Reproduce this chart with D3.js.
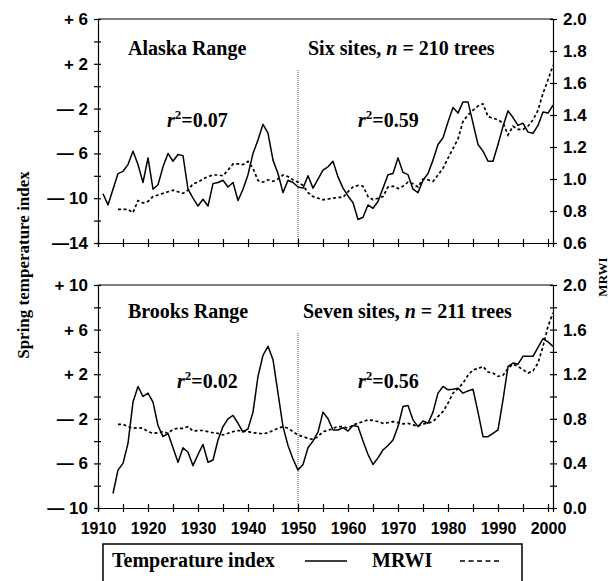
<!DOCTYPE html>
<html>
<head>
<meta charset="utf-8">
<script src="https://cdn.jsdelivr.net/npm/d3@7"></script>
<style>
body { margin: 0; background: #fff; }
.serif { font-family: "Liberation Serif", "Times New Roman", serif; font-weight: bold; fill: #000; }
.tick text { font-family: "Liberation Sans", Arial, sans-serif; font-weight: bold; font-size: 17px; fill: #000; }
.xax .tick text { font-size: 16px; }
.domain, .tick line { stroke: #000; stroke-width: 1.2; }
</style>
</head>
<body>
<div id="chart"></div>
<script>
// Alaska Range (top panel), one value per year
var alaskaTempStart = 1911;
var alaskaTemp = [
	-9.6, -10.6, -9.2, -7.8, -7.6, -7.0, -5.8, -7.0, -8.6, -6.4,
	-9.2, -8.8, -7.2, -6.0, -6.7, -6.1, -6.2, -9.2, -10.0, -10.7,
	-10.1, -10.7, -8.7, -8.6, -8.4, -9.0, -8.6, -10.2, -9.2, -7.9,
	-6.0, -4.8, -3.4, -4.2, -6.6, -7.8, -9.5, -8.4, -8.6, -9.0,
	-9.1, -8.0, -9.1, -8.3, -7.5, -7.2, -6.7, -8.1, -9.1, -9.8,
	-10.4, -11.9, -11.7, -10.6, -10.9, -10.3, -9.1, -7.9, -7.8, -6.4,
	-7.7, -7.9, -9.2, -9.5, -8.4, -7.8, -6.6, -5.2, -4.6, -3.2,
	-1.9, -2.4, -1.4, -1.4, -3.3, -5.2, -5.8, -6.7, -6.7, -5.2,
	-3.6, -2.2, -2.8, -3.5, -3.3, -4.1, -4.2, -3.5, -2.3, -2.4,
	-1.7
];
var alaskaMrwiStart = 1914;
var alaskaMrwi = [
	0.81, 0.81, 0.81, 0.79, 0.865, 0.85, 0.86,
	0.89, 0.90, 0.91, 0.92, 0.93, 0.92, 0.91, 0.93, 0.97, 0.98,
	1.00, 1.015, 1.025, 1.025, 1.02, 1.056, 1.094, 1.094, 1.09, 1.11,
	1.067, 0.99, 0.98, 0.995, 0.985, 1.0, 1.025, 1.015, 0.995, 0.98,
	0.96, 0.915, 0.89, 0.88, 0.87, 0.875, 0.88, 0.885, 0.885, 0.92,
	0.95, 0.96, 0.955, 0.89, 0.87, 0.88, 0.89, 0.95, 0.955, 0.94,
	0.955, 0.98, 0.97, 0.95, 1.0, 0.995, 0.985, 1.025, 1.067, 1.13,
	1.19, 1.25, 1.36, 1.40, 1.43, 1.456, 1.47, 1.39, 1.38, 1.37,
	1.35, 1.275, 1.33, 1.31, 1.31, 1.33, 1.37, 1.43, 1.535, 1.62,
	1.71
];

// Brooks Range (bottom panel)
var brooksTempStart = 1913;
var brooksTemp = [
	-8.7, -6.6, -6.0, -4.2, -0.5, 0.9, 0.0, 0.3,
	-0.5, -2.6, -3.6, -3.3, -4.6, -5.9, -4.6, -5.0, -6.2, -5.2,
	-4.3, -5.9, -5.7, -3.9, -2.7, -2.0, -1.7, -2.4, -3.2, -2.9,
	-1.4, 1.8, 3.7, 4.5, 3.3, 0.3, -2.7, -4.4, -5.6, -6.6,
	-6.1, -4.6, -4.0, -3.2, -1.4, -2.0, -3.0, -3.0, -2.8, -3.1,
	-2.6, -2.7, -4.0, -5.2, -6.1, -5.5, -4.8, -4.4, -3.9, -2.7,
	-0.9, -0.8, -2.1, -2.7, -2.2, -2.4, -1.4, 0.3, 0.9, 0.6,
	0.65, 0.75, 0.3, 0.5, 0.65, -1.4, -3.6, -3.6, -3.3, -3.0,
	-0.3, 2.7, 3.0, 2.9, 3.6, 3.6, 3.6, 4.4, 5.2, 4.9,
	4.5
];
var brooksMrwiStart = 1914;
var brooksMrwi = [
	0.75, 0.75, 0.73, 0.715, 0.72, 0.715, 0.685,
	0.67, 0.675, 0.685, 0.67, 0.705, 0.715, 0.715, 0.73, 0.69, 0.695,
	0.695, 0.685, 0.675, 0.67, 0.655, 0.67, 0.685, 0.695, 0.69, 0.685,
	0.675, 0.67, 0.665, 0.675, 0.695, 0.715, 0.73, 0.715, 0.685, 0.655,
	0.64, 0.625, 0.615, 0.64, 0.685, 0.695, 0.715, 0.73, 0.73, 0.715,
	0.745, 0.76, 0.775, 0.79, 0.785, 0.775, 0.76, 0.765, 0.775, 0.765,
	0.755, 0.76, 0.745, 0.735, 0.755, 0.76, 0.775, 0.82, 0.865, 0.94,
	1.03, 1.07, 1.12, 1.19, 1.24, 1.25, 1.27, 1.22, 1.21, 1.18,
	1.19, 1.25, 1.29, 1.27, 1.24, 1.21, 1.23, 1.30, 1.45, 1.63,
	1.75
];

// tick values and labels
var xTicks = [1910, 1915, 1920, 1925, 1930, 1935, 1940, 1945, 1950, 1955, 1960, 1965, 1970, 1975, 1980, 1985, 1990, 1995, 2000];
var alaskaLeftTicks = [6, 4, 2, 0, -2, -4, -6, -8, -10, -12, -14];
var alaskaLeftLabels = ['+ 6', '', '+ 2', '', '\u2014 2', '', '\u2014 6', '', '\u2014 10', '', '\u201414'];
var alaskaRightTicks = [2.0, 1.8, 1.6, 1.4, 1.2, 1.0, 0.8, 0.6];
var brooksLeftTicks = [10, 8, 6, 4, 2, 0, -2, -4, -6, -8, -10];
var brooksLeftLabels = ['+ 10', '', '+ 6', '', '+ 2', '', '\u2014 2', '', '\u2014 6', '', '\u2014 10'];
var brooksRightTicks = [2.0, 1.8, 1.6, 1.4, 1.2, 1.0, 0.8, 0.6, 0.4, 0.2, 0.0];
var brooksRightLabels = ['2.0', '', '1.6', '', '1.2', '', '0.8', '', '0.4', '', '0.0'];

var toPoints = function(start, values) {
	return values.map(function(v, i) { return { year: start + i, v: v }; });
};

var panels = [
	{
		top: 19, bottom: 243, dividerTop: 70,
		leftDomain: [-14, 6], rightDomain: [0.6, 2.0],
		leftTicks: alaskaLeftTicks, leftLabels: alaskaLeftLabels,
		rightTicks: alaskaRightTicks, rightLabels: alaskaRightTicks.map(function(d) { return d.toFixed(1); }),
		temp: toPoints(alaskaTempStart, alaskaTemp), mrwi: toPoints(alaskaMrwiStart, alaskaMrwi),
		xLabels: false,
		title: 'Alaska Range', sites: 'Six sites, ', trees: ' = 210 trees', r1: '=0.07', r2: '=0.59',
		r1x: 167, rx2: 358, rY: 127, titleY: 55, sitesX: 308
	},
	{
		top: 285, bottom: 508, dividerTop: 333,
		leftDomain: [-10, 10], rightDomain: [0, 2.0],
		leftTicks: brooksLeftTicks, leftLabels: brooksLeftLabels,
		rightTicks: brooksRightTicks, rightLabels: brooksRightLabels,
		temp: toPoints(brooksTempStart, brooksTemp), mrwi: toPoints(brooksMrwiStart, brooksMrwi),
		xLabels: true,
		title: 'Brooks Range', sites: 'Seven sites, ', trees: ' = 211 trees', r1: '=0.02', r2: '=0.56',
		r1x: 177, rx2: 358, rY: 388, titleY: 318, sitesX: 303
	}
];

var W = 611, H = 581;
var svg = d3.select('#chart').append('svg')
	.attr('width', W)
	.attr('height', H);

var x = d3.scaleLinear().domain([1910, 2001]).range([98, 553]);
var left = x.range()[0], right = x.range()[1];

panels.forEach(function(p) {
	var yL = d3.scaleLinear().domain(p.leftDomain).range([p.bottom, p.top]);
	var yR = d3.scaleLinear().domain(p.rightDomain).range([p.bottom, p.top]);

	// top frame line
	svg.append('line')
		.attr('x1', left).attr('x2', right)
		.attr('y1', p.top).attr('y2', p.top)
		.attr('stroke', '#000').attr('stroke-width', 1.2);

	// 1950 divider
	svg.append('line')
		.attr('x1', x(1950)).attr('x2', x(1950))
		.attr('y1', p.dividerTop).attr('y2', p.bottom)
		.attr('stroke', '#555').attr('stroke-width', 1)
		.attr('stroke-dasharray', '1,1');

	// left axis
	var gl = svg.append('g')
		.attr('transform', 'translate(' + left + ',0)')
		.call(d3.axisLeft(yL).tickValues(p.leftTicks)
			.tickFormat(function(d, i) { return p.leftLabels[i]; })
			.tickSizeOuter(0).tickSize(4).tickPadding(6));
	gl.selectAll('.tick line').attr('x1', 3);

	// right axis
	var gr = svg.append('g')
		.attr('transform', 'translate(' + right + ',0)')
		.call(d3.axisRight(yR).tickValues(p.rightTicks)
			.tickFormat(function(d, i) { return p.rightLabels[i]; })
			.tickSizeOuter(0).tickSize(4).tickPadding(6));
	gr.selectAll('.tick line').attr('x1', -3);

	// bottom axis
	var gx = svg.append('g')
		.attr('class', 'xax')
		.attr('transform', 'translate(0,' + p.bottom + ')')
		.call(d3.axisBottom(x).tickValues(xTicks)
			.tickFormat(function(d) { return p.xLabels && d % 10 === 0 ? d : ''; })
			.tickSizeOuter(0).tickSize(4).tickPadding(11));
	gx.selectAll('.tick line').attr('y1', -4);

	// temperature index line
	var tempLine = d3.line()
		.x(function(d) { return x(d.year); })
		.y(function(d) { return yL(d.v); });
	svg.append('path')
		.datum(p.temp)
		.attr('fill', 'none')
		.attr('stroke', '#000')
		.attr('stroke-width', 1.5)
		.attr('stroke-linejoin', 'round')
		.attr('d', tempLine);

	// MRWI line
	var mrwiLine = d3.line()
		.x(function(d) { return x(d.year); })
		.y(function(d) { return yR(d.v); });
	svg.append('path')
		.datum(p.mrwi)
		.attr('fill', 'none')
		.attr('stroke', '#000')
		.attr('stroke-width', 1.7)
		.attr('stroke-dasharray', '3,2.5')
		.attr('d', mrwiLine);

	// annotations
	svg.append('text').attr('class', 'serif')
		.attr('x', 128).attr('y', p.titleY)
		.style('font-size', '20px')
		.text(p.title);

	var st = svg.append('text').attr('class', 'serif')
		.attr('x', p.sitesX).attr('y', p.titleY)
		.style('font-size', '20px');
	st.append('tspan').text(p.sites);
	st.append('tspan').attr('font-style', 'italic').text('n');
	st.append('tspan').text(p.trees);

	[[p.r1x, p.r1], [p.rx2, p.r2]].forEach(function(r) {
		var t = svg.append('text').attr('class', 'serif')
			.attr('x', r[0]).attr('y', p.rY)
			.style('font-size', '20px');
		t.append('tspan').attr('font-style', 'italic').text('r');
		t.append('tspan').attr('font-size', '13px').attr('dy', -8).text('2');
		t.append('tspan').attr('dy', 8).text(r[1]);
	});
});

// axis titles
svg.append('text').attr('class', 'serif')
	.attr('transform', 'translate(29,265) rotate(-90)')
	.attr('text-anchor', 'middle')
	.style('font-size', '17px')
	.text('Spring temperature index');

svg.append('text').attr('class', 'serif')
	.attr('transform', 'translate(607,277) rotate(-90)')
	.attr('text-anchor', 'middle')
	.style('font-size', '13px')
	.text('MRWI');

// legend
var lg = svg.append('g');
lg.append('rect')
	.attr('x', 103).attr('y', 544)
	.attr('width', 419).attr('height', 60)
	.attr('fill', 'none')
	.attr('stroke', '#000')
	.attr('stroke-width', 1.5);
lg.append('text').attr('class', 'serif')
	.attr('x', 112).attr('y', 567)
	.style('font-size', '20px')
	.text('Temperature index');
lg.append('line')
	.attr('x1', 305).attr('x2', 347).attr('y1', 561).attr('y2', 561)
	.attr('stroke', '#000').attr('stroke-width', 1.5);
lg.append('text').attr('class', 'serif')
	.attr('x', 372).attr('y', 567)
	.style('font-size', '20px')
	.text('MRWI');
lg.append('line')
	.attr('x1', 460).attr('x2', 502).attr('y1', 561).attr('y2', 561)
	.attr('stroke', '#000').attr('stroke-width', 1.5)
	.attr('stroke-dasharray', '5,3.5');
</script>
</body>
</html>
